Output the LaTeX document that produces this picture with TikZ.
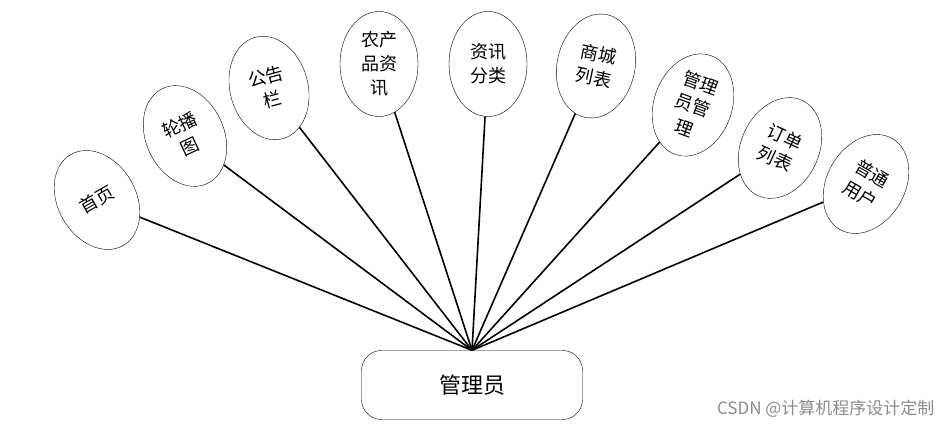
\documentclass[tikz,border=0pt]{standalone}
\usepackage{fontspec}
\setmainfont{Noto Sans CJK SC}
\tikzset{
  item/.style={draw, ellipse, thin, minimum width=78pt, minimum height=105pt, inner sep=0pt,
    align=center, font=\fontsize{18}{24}\selectfont},
  link/.style={line width=1.6pt},
}
\usetikzlibrary{shapes.geometric}
\begin{document}
\begin{tikzpicture}[x=1pt, y=-1pt]
    \useasboundingbox (0,0) rectangle (951,427);

    % Centre box
    \node[draw, rounded corners=20pt, minimum width=221pt, minimum height=69pt,
      font=\fontsize{22}{26}\selectfont] (admin) at (472,385) {管理员};

    % Functions round it
    \node[item, rotate=30]  (home)   at (97,200)  {首页};
    \node[item, rotate=25]  (banner) at (185,136) {轮播\\图};
    \node[item, rotate=15]  (notice) at (269,88)  {公告\\栏};
    \node[item]             (news)   at (379,64)  {农产\\品资\\讯};
    \node[item]             (sort)   at (488,64)  {资讯\\分类};
    \node[item, rotate=-12] (shop)   at (596,66)  {商城\\列表};
    \node[item, rotate=-20] (manage) at (693,105) {管理\\员管\\理};
    \node[item, rotate=-25] (orders) at (780,148) {订单\\列表};
    \node[item, rotate=-30] (users)  at (866,184) {普通\\用户};

    % Connectors
    \foreach \n in {home,banner,notice,news,sort,shop,manage,orders,users}
        \draw[link] (admin.north) -- (\n);

    \node[text=black!45, font=\fontsize{17}{19}\selectfont, anchor=east] (mark) at (938,409) {CSDN @计算机程序设计定制};
\end{tikzpicture}
\end{document}
